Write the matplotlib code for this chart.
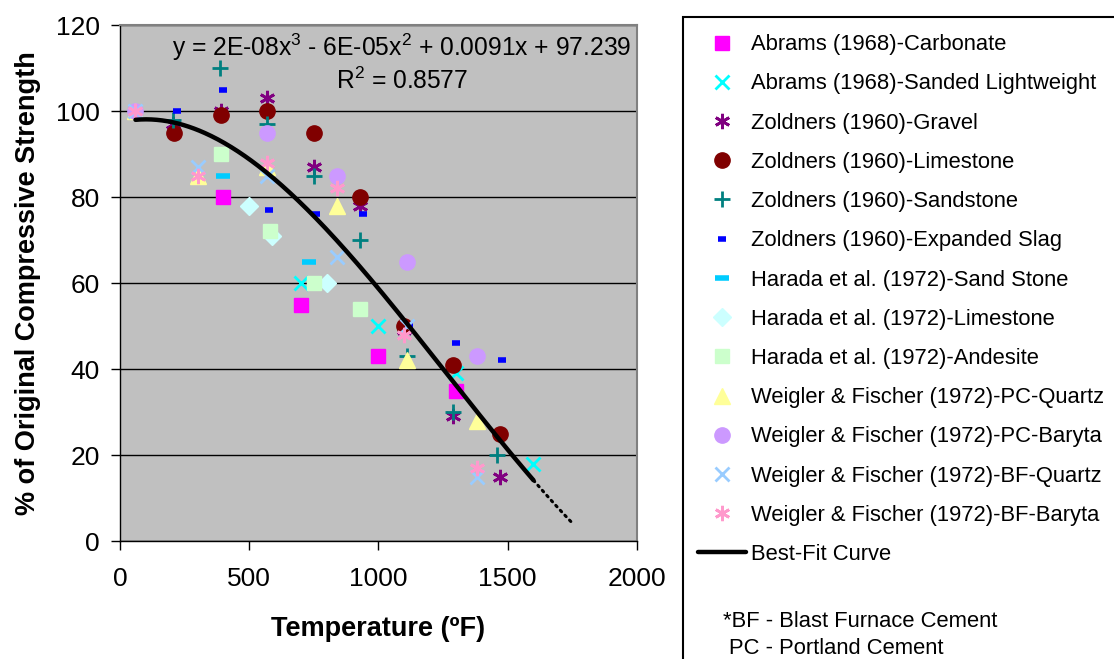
import matplotlib.pyplot as plt
import numpy as np
from matplotlib.patches import Rectangle

plt.rcParams['font.family'] = ['Liberation Sans', 'DejaVu Sans']
plt.rcParams['mathtext.fontset'] = 'custom'
plt.rcParams['mathtext.rm'] = 'Liberation Sans'
plt.rcParams['mathtext.default'] = 'regular'

# dados
labels = [
    'Abrams (1968)-Carbonate',
    'Abrams (1968)-Sanded Lightweight',
    'Zoldners (1960)-Gravel',
    'Zoldners (1960)-Limestone',
    'Zoldners (1960)-Sandstone',
    'Zoldners (1960)-Expanded Slag',
    'Harada et al. (1972)-Sand Stone',
    'Harada et al. (1972)-Limestone',
    'Harada et al. (1972)-Andesite',
    'Weigler & Fischer (1972)-PC-Quartz',
    'Weigler & Fischer (1972)-PC-Baryta',
    'Weigler & Fischer (1972)-BF-Quartz',
    'Weigler & Fischer (1972)-BF-Baryta',
]

abrams_carb_x = [400, 700, 1000, 1300]
abrams_carb_y = [80, 55, 43, 35]
abrams_lw_x = [700, 1000, 1300, 1600]
abrams_lw_y = [60, 50, 39, 18]
zold_gravel_x = [205, 390, 570, 750, 930, 1100, 1290, 1470]
zold_gravel_y = [97, 100, 103, 87, 78, 49, 29, 15]
zold_lime_x = [209, 390, 570, 750, 930, 1100, 1290, 1470]
zold_lime_y = [95, 99, 100, 95, 80, 50, 41, 25]
zold_sand_x = [205, 387, 570, 750, 930, 1110, 1290, 1460]
zold_sand_y = [98, 110, 97, 85, 70, 43, 30, 20]
zold_slag_x = [220, 400, 575, 760, 940, 1120, 1300, 1480]
zold_slag_y = [100, 105, 77, 76, 76, 50, 46, 42]
harada_sand_x = [400, 730]
harada_sand_y = [85, 65]
harada_lime_x = [500, 590, 800]
harada_lime_y = [78, 71, 60]
harada_and_x = [390, 580, 750, 930]
harada_and_y = [90, 72, 60, 54]
wf_pcq_x = [60, 300, 570, 840, 1110, 1380]
wf_pcq_y = [100, 85, 87, 78, 42, 28]
wf_pcb_x = [60, 570, 840, 1110, 1380]
wf_pcb_y = [100, 95, 85, 65, 43]
wf_bfq_x = [60, 300, 570, 840, 1110, 1380]
wf_bfq_y = [100, 87, 85, 66, 50, 15]
wf_bfb_x = [60, 300, 570, 840, 1100, 1380]
wf_bfb_y = [100, 85, 88, 82, 48, 17]

xs = [abrams_carb_x, abrams_lw_x, zold_gravel_x, zold_lime_x, zold_sand_x,
      zold_slag_x, harada_sand_x, harada_lime_x, harada_and_x,
      wf_pcq_x, wf_pcb_x, wf_bfq_x, wf_bfb_x]
ys = [abrams_carb_y, abrams_lw_y, zold_gravel_y, zold_lime_y, zold_sand_y,
      zold_slag_y, harada_sand_y, harada_lime_y, harada_and_y,
      wf_pcq_y, wf_pcb_y, wf_bfq_y, wf_bfb_y]

# estilos dos marcadores (cor, marcador, tamanho, espessura)
styles = [
    dict(color='#FF00FF', marker='s', ms=10, mew=1),
    dict(color='#00FFFF', marker='x', ms=10, mew=2),
    dict(color='#800080', marker=(6, 2, 0), ms=11, mew=2),
    dict(color='#800000', marker='o', ms=11, mew=1),
    dict(color='#008080', marker='+', ms=12, mew=2),
    dict(color='#0000FF', marker='_', ms=6, mew=4),
    dict(color='#00CCFF', marker='_', ms=10, mew=4),
    dict(color='#CCFFFF', marker='D', ms=9, mew=1),
    dict(color='#CCFFCC', marker='s', ms=10, mew=1),
    dict(color='#FFFF99', marker='^', ms=11, mew=1),
    dict(color='#CC99FF', marker='o', ms=11, mew=1),
    dict(color='#99CCFF', marker='x', ms=10, mew=2),
    dict(color='#FF99CC', marker=(6, 2, 0), ms=11, mew=2),
]

fig = plt.figure(figsize=(11.14, 6.59), dpi=100)
ax = fig.add_axes([0.1077, 0.179, 0.464, 0.783])
ax.set_facecolor('#C0C0C0')

handles = []
for x, y, lab, st in zip(xs, ys, labels, styles):
    ln, = ax.plot(x, y, linestyle='none', marker=st['marker'], ms=st['ms'],
                  mew=st['mew'], color=st['color'], mec=st['color'],
                  mfc=st['color'], label=lab, zorder=3)
    handles.append(ln)

# curva de ajuste (polinomio de 3o grau) + previsao pontilhada
all_x = np.concatenate([np.asarray(v, float) for v in xs])
all_y = np.concatenate([np.asarray(v, float) for v in ys])
coef = np.polyfit(all_x, all_y, 3)
xx = np.linspace(all_x.min(), all_x.max(), 300)
fit_line, = ax.plot(xx, np.polyval(coef, xx), color='black', lw=3.2,
                    solid_capstyle='round', zorder=4, label='Best-Fit Curve')
xf = np.linspace(all_x.max(), all_x.max() + 150, 50)
ax.plot(xf, np.polyval(coef, xf), color='black', lw=2.2, linestyle=(0, (0.6, 1.6)),
        dash_capstyle='round', zorder=4)
handles.append(fit_line)

ax.set_xlim(0, 2000)
ax.set_ylim(0, 120)
ax.set_xticks(np.arange(0, 2001, 500))
ax.set_yticks(np.arange(0, 121, 20))
ax.yaxis.grid(True, color='black', lw=1)
ax.set_axisbelow(True)
ax.tick_params(axis='both', direction='out', length=6.5, width=1, labelsize=19,
               color='black')
ax.tick_params(axis='x', pad=12)
ax.tick_params(axis='y', pad=8)
for s in ['top', 'right']:
    ax.spines[s].set_color('#808080')
    ax.spines[s].set_linewidth(1.5)
for s in ['left', 'bottom']:
    ax.spines[s].set_color('black')
    ax.spines[s].set_linewidth(1)

ax.set_xlabel('Temperature (ºF)', fontsize=19.5, fontweight='bold', labelpad=18)
ax.set_ylabel('% of Original Compressive Strength', fontsize=19.5,
              fontweight='bold', labelpad=11)

ax.text(0.545, 0.957, 'y = 2E-08x$^3$ - 6E-05x$^2$ + 0.0091x + 97.239',
        transform=ax.transAxes, ha='center', va='center', fontsize=17.7)
ax.text(0.545, 0.891, 'R$^2$ = 0.8577', transform=ax.transAxes,
        ha='center', va='center', fontsize=17.7)

# caixa da legenda (sai pela borda da figura)
fig.patches.append(Rectangle((0.613, -0.05), 0.45, 1.024, transform=fig.transFigure,
                             fill=False, edgecolor='black', lw=1.5, clip_on=False))
fig.legend(handles=handles, loc='upper left', bbox_to_anchor=(0.6265, 0.948),
           frameon=False, fontsize=15.8, borderpad=0, handlelength=2.2,
           handletextpad=0.22, labelspacing=0.83, borderaxespad=0)
fig.text(0.649, 0.057, '*BF - Blast Furnace Cement', fontsize=15.8, va='center')
fig.text(0.654, 0.016, 'PC - Portland Cement', fontsize=15.8, va='center')

fig.savefig('out.png', dpi=100)
